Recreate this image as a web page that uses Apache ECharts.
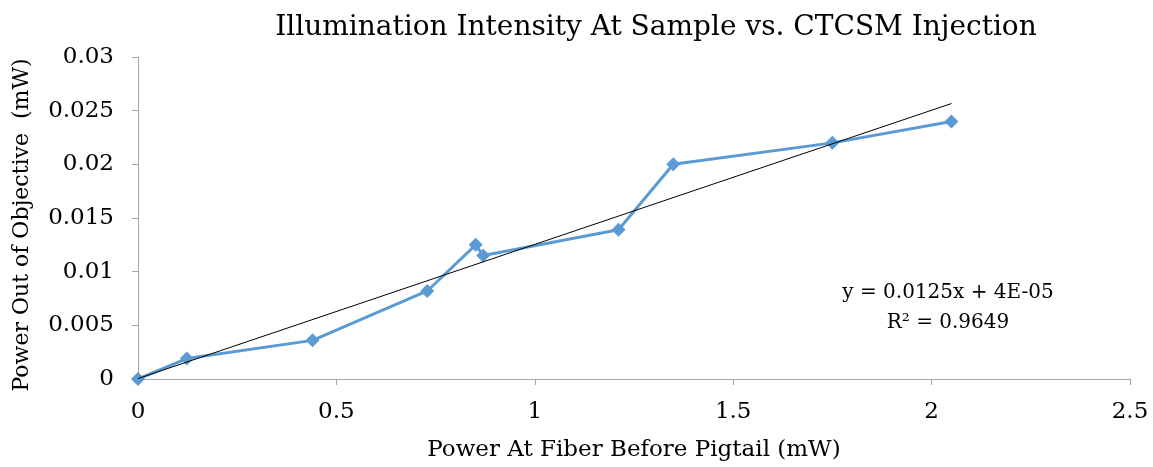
<!DOCTYPE html>
<html>
<head>
<meta charset="utf-8">
<script src="https://cdn.jsdelivr.net/npm/echarts@6/dist/echarts.min.js"></script>
<style>html,body{margin:0;padding:0;background:#fff}#c{width:1153px;height:467px}</style>
</head>
<body>
<div id="c"></div>
<script>
var xValues = [0, 0.123, 0.44, 0.729, 0.851, 0.870, 1.211, 1.349, 1.75, 2.05];
var yValues = [0, 0.0019, 0.0036, 0.0082, 0.0125, 0.0115, 0.0139, 0.0200, 0.0220, 0.0240];
var trendSlope = 0.0125;
var trendIntercept = 0.00004;
var trendRange = [0, 2.05];
var xTicks = [0, 0.5, 1, 1.5, 2, 2.5];
var yTicks = [0, 0.005, 0.01, 0.015, 0.02, 0.025, 0.03];
var titleText = 'Illumination Intensity At Sample vs. CTCSM Injection';
var xName = 'Power At Fiber Before Pigtail (mW)';
var yName = 'Power Out of Objective  (mW)';
var eqText = 'y = 0.0125x + 4E-05\nR² = 0.9649';

var serif = 'DejaVu Serif';
var pts = xValues.map(function (x, i) { return [x, yValues[i]]; });
var trend = trendRange.map(function (x) { return [x, trendSlope * x + trendIntercept]; });

var chart = echarts.init(document.getElementById('c'));
chart.setOption({
  animation: false,
  title: {
    text: titleText, left: 651, top: 9, textAlign: 'center',
    textStyle: { fontFamily: serif, fontSize: 28, fontWeight: 'normal', color: '#000' }
  },
  grid: { left: 138, right: 23, top: 57, bottom: 87 },
  xAxis: {
    type: 'value', min: 0, max: 2.5, interval: 0.5,
    name: xName, nameLocation: 'middle', nameGap: 60,
    nameTextStyle: { fontFamily: serif, fontSize: 23, color: '#000' },
    axisLine: { lineStyle: { color: '#A6A6A6', width: 1 } },
    axisTick: { show: true, length: 6, lineStyle: { color: '#A6A6A6' } },
    axisLabel: { fontFamily: serif, fontSize: 23, color: '#000', margin: 22,
      formatter: function (v) { return String(+v.toFixed(3)); } },
    splitLine: { show: false }
  },
  yAxis: {
    type: 'value', min: 0, max: 0.03, interval: 0.005,
    name: '',
    axisLine: { show: true, lineStyle: { color: '#A6A6A6', width: 1 } },
    axisTick: { show: true, length: 6, lineStyle: { color: '#A6A6A6' } },
    axisLabel: { fontFamily: serif, fontSize: 23, color: '#000', margin: 24,
      formatter: function (v) { return String(+v.toFixed(3)); } },
    splitLine: { show: false }
  },
  series: [
    {
      type: 'line', data: pts, symbol: 'diamond', symbolSize: 14,
      lineStyle: { color: '#5B9BD5', width: 3 },
      itemStyle: { color: '#5B9BD5' }, z: 2
    },
    {
      type: 'line', data: trend, symbol: 'none',
      lineStyle: { color: '#000', width: 1 }, z: 3, silent: true
    }
  ],
  graphic: [
    {
      type: 'text', x: 948, y: 278,
      style: { text: eqText, fontFamily: serif, fontSize: 20, fill: '#000', align: 'center', lineHeight: 30 }
    },
    {
      type: 'text', x: 22, y: 225, rotation: Math.PI / 2,
      style: { text: yName, fontFamily: serif, fontSize: 22, fill: '#000', align: 'center', verticalAlign: 'middle' }
    }
  ]
});
</script>
</body>
</html>
